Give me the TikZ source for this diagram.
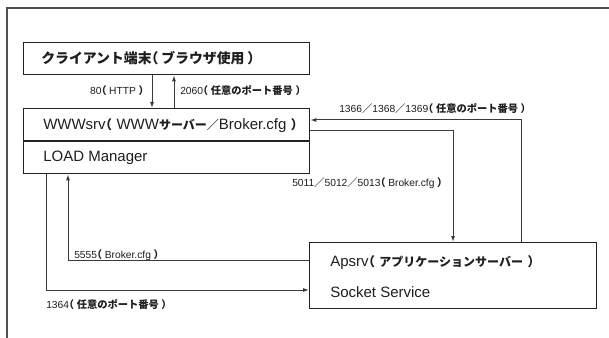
\documentclass[tikz,border=0pt]{standalone}
\usepackage{fontspec}
\setmainfont{Liberation Sans}
\newfontfamily\jp{Noto Sans CJK JP}
\newfontfamily\jph[RawFeature=+halt]{Noto Sans CJK JP}
\usetikzlibrary{arrows.meta}
\newdimen\pxu \pxu=0.75pt
\newcommand\J[1]{{\jp\bfseries #1}}
\newcommand\JB[1]{{\jp\bfseries\fontsize{9pt}{10pt}\selectfont #1}}
\newcommand\Po{{\jph\bfseries （}\hspace{0.25em}}
\newcommand\Pc{\hspace{0.25em}{\jph\bfseries ）}}
\newcommand\BPo{{\jph\bfseries\fontsize{9.5pt}{10pt}\selectfont （}\hspace{0.3em}}
\newcommand\BPc{\hspace{0.3em}{\jph\bfseries\fontsize{9.5pt}{10pt}\selectfont ）}}
\definecolor{boxc}{HTML}{222222}
\definecolor{linec}{HTML}{3A3A3A}
\definecolor{framec}{HTML}{505050}
\definecolor{txtc}{HTML}{1E1E1E}
\begin{document}
\begin{tikzpicture}[x=0.75pt,y=-0.75pt,
  boxst/.style={draw=boxc, line width=1.3\pxu, anchor=north west, inner sep=0pt},
  conn/.style={draw=linec, line width=1\pxu},
  arr/.style={conn, -{Latex[length=4.5pt,width=3pt]}},
  outerframe/.style={draw=framec, line width=2\pxu},
  boxtxt/.style={anchor=west, inner sep=0pt, font=\fontsize{11.25pt}{13pt}\selectfont, text=txtc},
  lbl/.style={anchor=west, inner sep=0pt, font=\fontsize{7.7pt}{9pt}\selectfont, text=txtc},
]
\useasboundingbox (0,0) rectangle (609,338);
\draw[outerframe] (7,338) -- (7,8) -- (609,8);
% boxes
\node[boxst, minimum width=286.3\pxu, minimum height=32.3\pxu] (client) at (22.7,41.7) {};
\node[boxst, minimum width=286.3\pxu, minimum height=65\pxu] (www) at (22.7,108) {};
\coordinate (div) at (22.7,141.5);
\draw[draw=boxc, line width=2\pxu] (www.west |- div) -- (www.east |- div);
\node[boxst, minimum width=287\pxu, minimum height=66\pxu] (aps) at (309,242) {};
% box texts
\node[boxtxt] (clienttxt) at (41,58) {\jp\bfseries\fontsize{10.4pt}{12pt}\selectfont クライアント端末{\jph （}\hspace{0.2em}ブラウザ使用\hspace{0.2em}{\jph ）}};
\node[boxtxt] (wwwtxt) at (43,126) {WWWsrv\BPo WWW\JB{サーバー／}Broker.cfg\BPc};
\node[boxtxt] (loadtxt) at (43,158) {LOAD Manager};
\node[boxtxt] (apstxt) at (330,263) {Apsrv\BPo\JB{アプリケーションサーバー}\BPc};
\node[boxtxt] (socktxt) at (330,292) {Socket Service};
% labels
\node[lbl, anchor=east] (l80) at (144,91) {80\Po HTTP\Pc};
\node[lbl] (l2060) at (180,91) {2060\Po\J{任意のポート番号}\Pc};
\node[lbl] (l1366) at (339,109) {1366\J{／}1368\J{／}1369\Po\J{任意のポート番号}\Pc};
\node[lbl] (l5011) at (292,183) {5011\J{／}5012\J{／}5013\Po Broker.cfg\Pc};
\node[lbl] (l5555) at (74,255) {5555\Po Broker.cfg\Pc};
\node[lbl] (l1364) at (46,305) {1364\Po\J{任意のポート番号}\Pc};
% connectors
\coordinate (xd) at (152,0);
\coordinate (xu) at (174,0);
\draw[arr] (xd |- client.south) -- (xd |- www.north);
\draw[arr] (xu |- www.north) -- (xu |- client.south);
\coordinate (r1) at (521,120);
\coordinate (r2) at (453,131);
\draw[arr] (r1 |- aps.north) |- (www.east |- r1);
\draw[arr] (www.east |- r2) -| (r2 |- aps.north);
\coordinate (q1) at (68,260);
\coordinate (q2) at (46,290);
\draw[arr] (aps.west |- q1) -| (q1 |- www.south);
\draw[arr] (q2 |- www.south) |- (aps.west |- q2);
\end{tikzpicture}
\end{document}
